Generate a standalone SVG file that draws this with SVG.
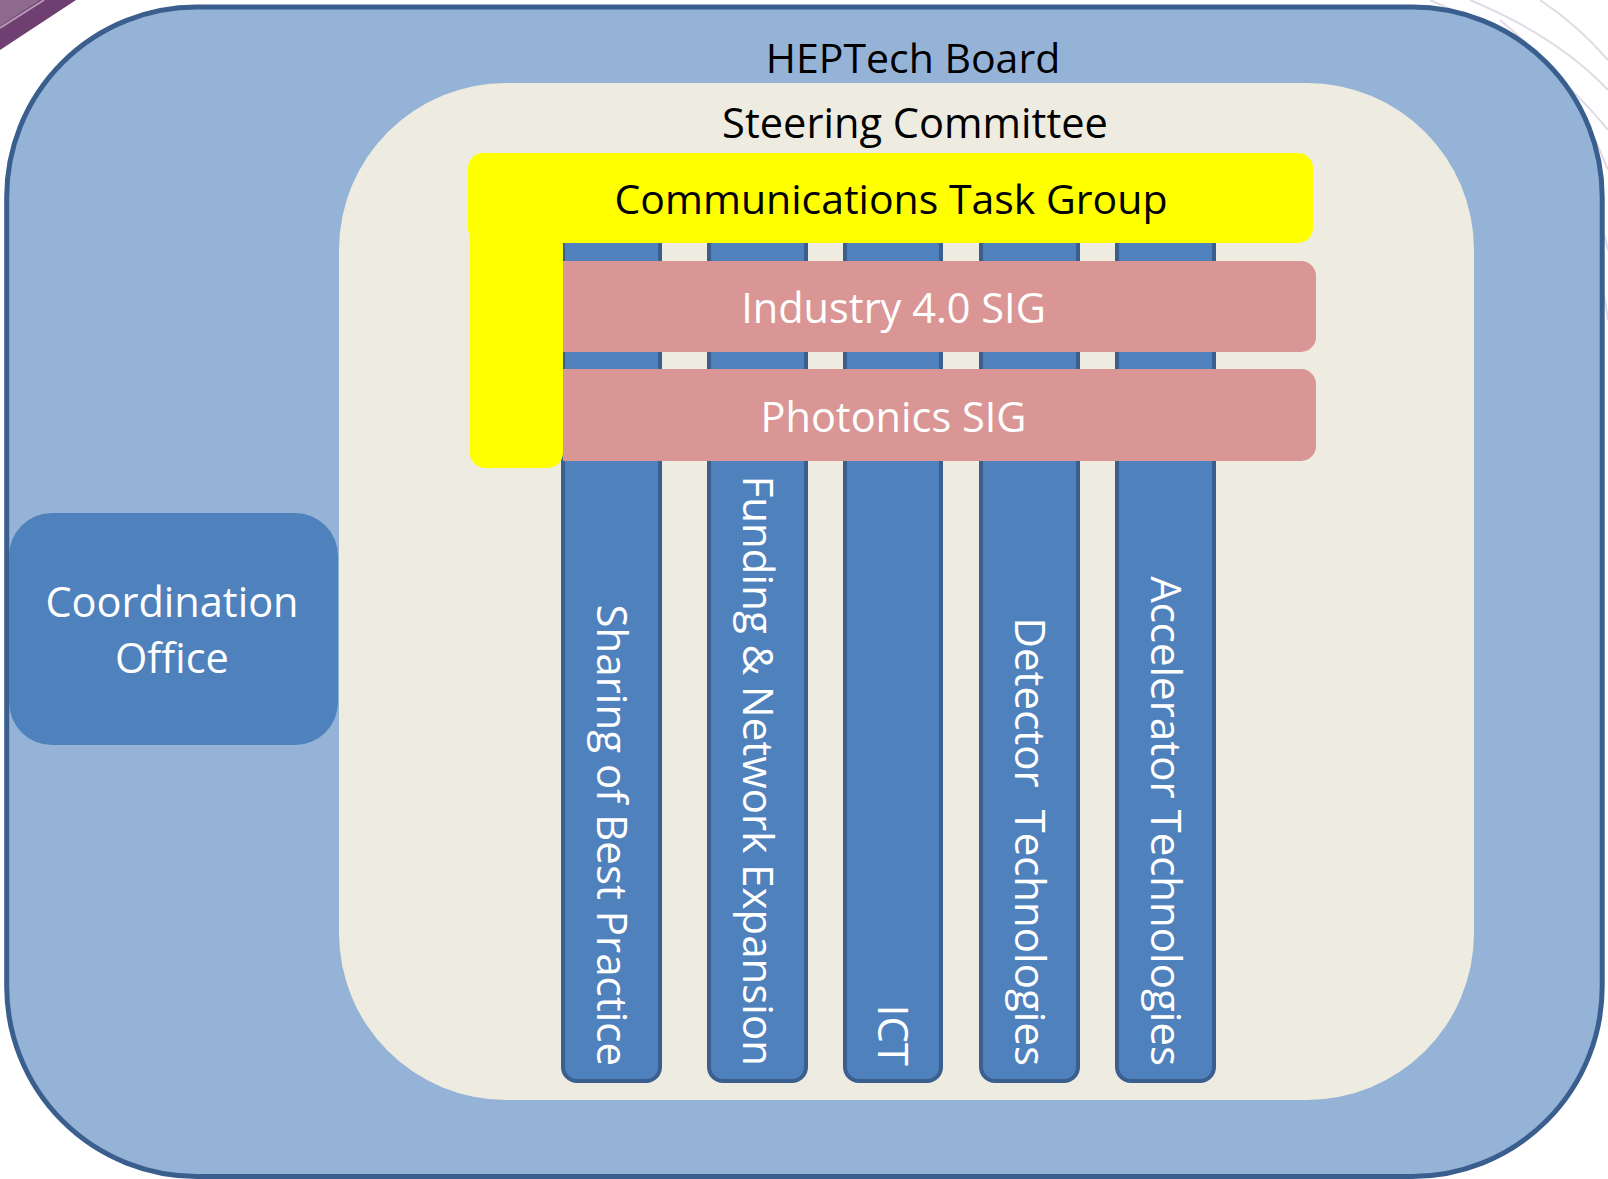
<svg xmlns="http://www.w3.org/2000/svg" width="1608" height="1179" viewBox="0 0 1608 1179">
  <style>
    .t { font-family: "Open Sans", "Noto Sans", "Liberation Sans", sans-serif; font-size: 41px; }
    .t2 { font-size: 41.5px; }
    .v { font-size: 42px; }
    .blk { fill: #000000; }
    .wht { fill: #FFFFFF; }
    .bar { fill: #4F81BD; stroke: #3A5F8F; stroke-width: 4; }
    .sig { fill: #D99694; }
    .yel { fill: #FFFF00; }
    .feather { fill: none; stroke: #D9CFDC; stroke-width: 2; opacity: 0.8; }
  </style>
  <rect x="0" y="0" width="1608" height="1179" fill="#FFFFFF"/>
  <!-- background decoration -->
  <g id="decoration">
    <polygon points="0,0 76,0 0,50" fill="#6E3F70"/>
    <polygon points="0,0 40,0 0,26" fill="#8E6A8E"/>
    <line x1="0" y1="28" x2="44" y2="0" stroke="#B79AB7" stroke-width="2"/>
    <path class="feather" d="M1430,0 C1500,30 1560,70 1608,130"/>
    <path class="feather" d="M1470,0 C1530,25 1575,55 1608,90"/>
    <path class="feather" d="M1500,20 C1550,60 1585,110 1608,170"/>
    <path class="feather" d="M1520,60 C1560,110 1590,170 1608,250"/>
    <path class="feather" d="M1540,0 C1570,20 1595,45 1608,60"/>
    <path class="feather" d="M1550,120 C1575,170 1595,230 1608,320"/>
  </g>
  <g id="heptech-board">
    <rect x="6.7" y="7" width="1595.5" height="1169.5" rx="190" ry="190" fill="#95B3D7" stroke="#3A5F8F" stroke-width="5"/>
    <text class="t blk" x="913" y="73" text-anchor="middle">HEPTech Board</text>
  </g>
  <g id="steering-committee">
    <rect x="339" y="83" width="1135" height="1017" rx="167" ry="167" fill="#EEECE1"/>
    <text class="t blk" x="915" y="138" text-anchor="middle" style="font-size:41.6px">Steering Committee</text>
  </g>
  <g id="coordination-office">
    <rect x="9" y="513" width="329" height="232" rx="43" ry="43" fill="#4F81BD"/>
    <text class="t t2 wht" x="172" y="617" text-anchor="middle">Coordination</text>
    <text class="t t2 wht" x="172" y="673" text-anchor="middle">Office</text>
  </g>
  <g id="bar-sharing">
    <rect class="bar" x="563" y="230" width="97" height="851" rx="14" ry="14"/>
    <text class="t v wht" transform="translate(597,1066) rotate(90)" text-anchor="end">Sharing of Best Practice</text>
  </g>
  <g id="bar-funding">
    <rect class="bar" x="709" y="230" width="97" height="851" rx="14" ry="14"/>
    <text class="t v wht" transform="translate(743,1066) rotate(90)" text-anchor="end">Funding &amp; Network Expansion</text>
  </g>
  <g id="bar-ict">
    <rect class="bar" x="845" y="230" width="96" height="851" rx="14" ry="14"/>
    <text class="t v wht" transform="translate(878,1066) rotate(90)" text-anchor="end">ICT</text>
  </g>
  <g id="bar-detector">
    <rect class="bar" x="981" y="230" width="97" height="851" rx="14" ry="14"/>
    <text class="t v wht" transform="translate(1015,1066) rotate(90)" text-anchor="end" xml:space="preserve">Detector  Technologies</text>
  </g>
  <g id="bar-accelerator">
    <rect class="bar" x="1117" y="230" width="97" height="851" rx="14" ry="14"/>
    <text class="t v wht" transform="translate(1151,1066) rotate(90)" text-anchor="end">Accelerator Technologies</text>
  </g>
  <g id="industry-sig">
    <path class="sig" d="M563,261 H1301 A15,15 0 0 1 1316,276 V337 A15,15 0 0 1 1301,352 H563 Z"/>
    <text class="t t2 wht" x="893.5" y="323" text-anchor="middle">Industry 4.0 SIG</text>
  </g>
  <g id="photonics-sig">
    <path class="sig" d="M563,369 H1301 A15,15 0 0 1 1316,384 V446 A15,15 0 0 1 1301,461 H563 Z"/>
    <text class="t t2 wht" x="893.5" y="432" text-anchor="middle">Photonics SIG</text>
  </g>
  <g id="communications-task-group">
    <rect class="yel" x="468" y="153" width="845" height="90" rx="15" ry="15"/>
    <rect class="yel" x="470" y="153" width="93" height="315" rx="15" ry="15"/>
    <text class="t blk" x="891" y="214" text-anchor="middle">Communications Task Group</text>
  </g>
  <g id="connectors"></g>
</svg>
